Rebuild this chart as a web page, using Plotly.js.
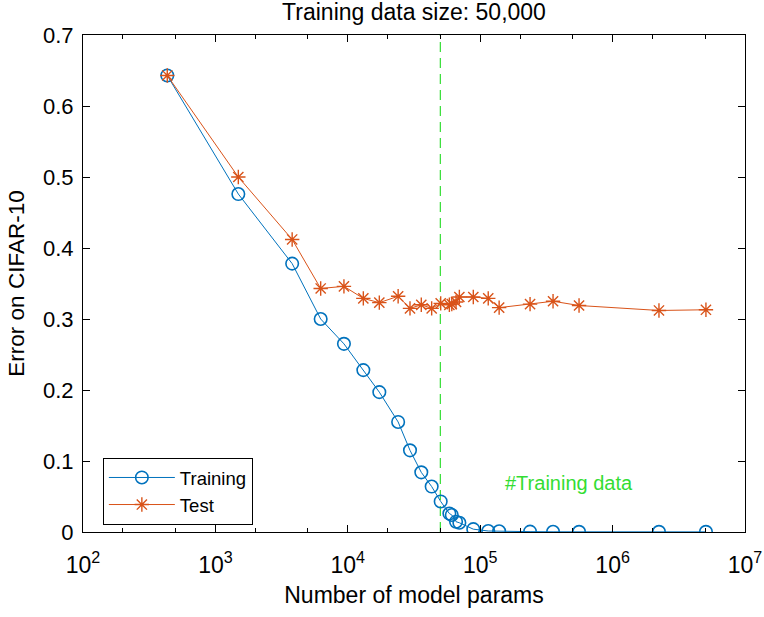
<!DOCTYPE html>
<html>
<head>
<meta charset="utf-8">
<script src="https://cdn.plot.ly/plotly-3.0.1.min.js"></script>
<style>html,body{margin:0;padding:0;background:#fff;}</style>
</head>
<body>
<div id="chart" style="width:764px;height:617px;"></div>
<script>
const params = [433, 1490, 3800, 6240, 9350, 13100, 17300, 24000, 29500, 35900, 43000, 50300, 58500, 61000, 65700, 69600, 88700, 115000, 139000, 238000, 355000, 558000, 2240000, 5070000];
const trainErr = [0.643, 0.476, 0.378, 0.300, 0.265, 0.228, 0.197, 0.155, 0.115, 0.084, 0.064, 0.043, 0.026, 0.024, 0.0145, 0.013, 0.004, 0.0014, 0.001, 0.0005, 0.0003, 0.0002, 0.0002, 0.0002];
const testErr = [0.643, 0.500, 0.412, 0.343, 0.346, 0.329, 0.323, 0.332, 0.315, 0.320, 0.315, 0.322, 0.320, 0.321, 0.324, 0.331, 0.331, 0.329, 0.316, 0.321, 0.325, 0.319, 0.312, 0.313];
const trainingSize = [50000, 50000];
const dashY = [0, 0.7];
const xTickVals = [100, 1000, 10000, 100000, 1000000, 10000000];
const xTickText = ['10<sup>2</sup>', '10<sup>3</sup>', '10<sup>4</sup>', '10<sup>5</sup>', '10<sup>6</sup>', '10<sup>7</sup>'];
const yTickVals = [0, 0.1, 0.2, 0.3, 0.4, 0.5, 0.6, 0.7];
const yTickText = ['0', '0.1', '0.2', '0.3', '0.4', '0.5', '0.6', '0.7'];

const font = 'Liberation Sans, Arial, Helvetica, sans-serif';

const traces = [
  {x: trainingSize, y: dashY, mode: 'lines', line: {color: '#33dd33', width: 1.2, dash: '10px,6px'}, showlegend: false, hoverinfo: 'skip'},
  {x: params, y: trainErr, name: 'Training', mode: 'lines+markers',
   line: {color: '#0072BD', width: 1},
   marker: {symbol: 'circle-open', size: 12.5, color: '#0072BD', line: {width: 1.6}}},
  {x: params, y: testErr, name: 'Test', mode: 'lines+markers',
   line: {color: '#D95319', width: 1},
   marker: {symbol: 'asterisk-open', size: 12, color: '#D95319', line: {width: 1.4, color: '#D95319'}}}
];

const layout = {
  width: 764, height: 617,
  margin: {l: 83, r: 19, t: 35, b: 85},
  paper_bgcolor: '#fff', plot_bgcolor: '#fff',
  font: {family: font, color: '#000', size: 20},
  title: {text: 'Training data size: 50,000', font: {size: 23, family: font}, x: 0.5, xref: 'paper', xanchor: 'center', y: 1 - 12/617, yanchor: 'middle'},
  showlegend: true,
  legend: {x: 0.03, y: 0.149, xanchor: 'left', yanchor: 'top', bgcolor: '#fff', bordercolor: '#000', borderwidth: 1,
           font: {size: 18.5, family: font}, tracegroupgap: 0, itemwidth: 66},
  xaxis: {type: 'log', range: [2, 7], tickvals: xTickVals, ticktext: xTickText, automargin: false,
          ticks: 'inside', ticklen: 7, tickcolor: '#000', tickwidth: 1, ticklabelstandoff: 12,
          minor: {ticks: 'inside', ticklen: 4, tickcolor: '#000', showgrid: false},
          showline: true, linecolor: '#000', linewidth: 1, mirror: 'ticks',
          showgrid: false, zeroline: false,
          tickfont: {size: 23, family: font},
          title: {text: 'Number of model params', font: {size: 23, family: font}, standoff: 10}},
  yaxis: {range: [0, 0.7], tickvals: yTickVals, ticktext: yTickText, automargin: false,
          ticks: 'inside', ticklen: 7, tickcolor: '#000', ticklabelstandoff: 4,
          showline: true, linecolor: '#000', linewidth: 1, mirror: 'ticks',
          showgrid: false, zeroline: false,
          tickfont: {size: 22, family: font},
          title: {text: 'Error on CIFAR-10', font: {size: 22.5, family: font}, standoff: 12}},
  annotations: [
    {x: Math.log10(148000), y: 0.069, xref: 'x', yref: 'y', text: '#Training data', showarrow: false,
     xanchor: 'left', yanchor: 'middle', font: {color: '#33dd33', size: 20, family: font}}
  ]
};

Plotly.newPlot('chart', traces, layout, {displayModeBar: false, staticPlot: true});
</script>
</body>
</html>
